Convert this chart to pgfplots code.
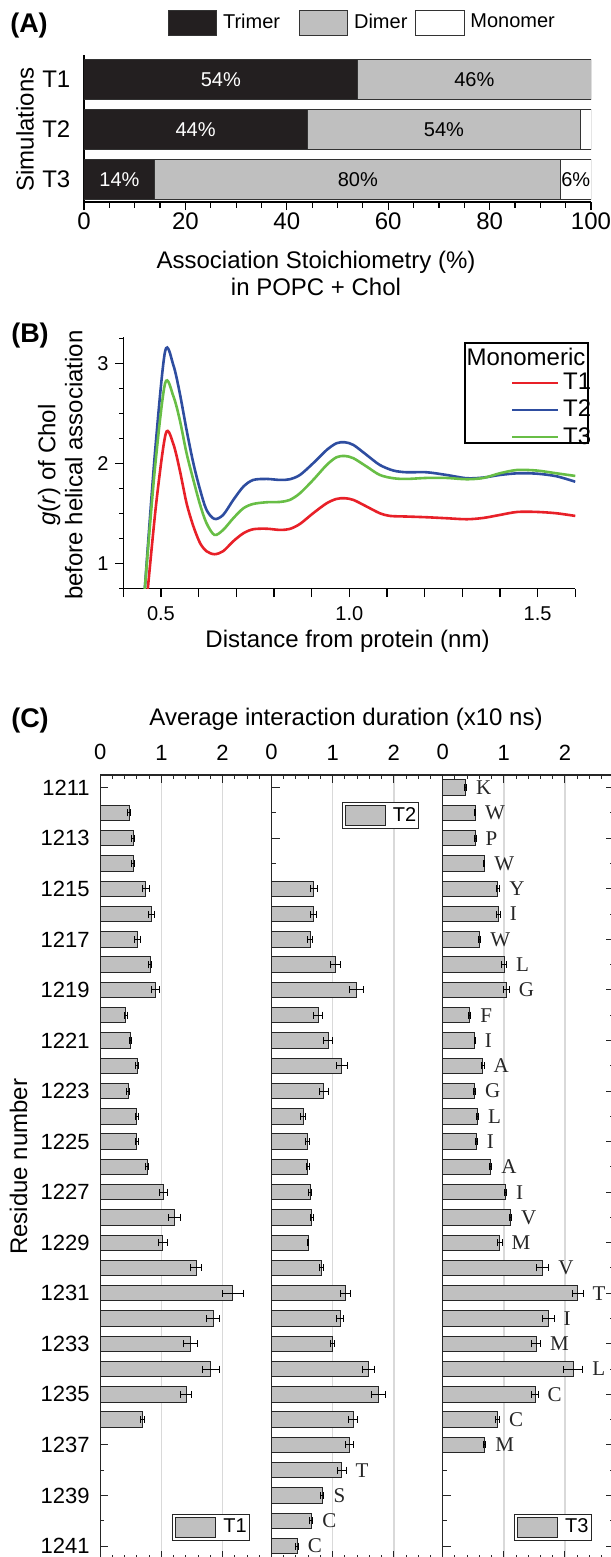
\documentclass[border=0pt]{standalone}
\usepackage{pgfplots}
\pgfplotsset{compat=1.18}
\usepackage{pgfplotstable}
\usepackage{fontspec}
\setmainfont{Liberation Sans}
\newfontfamily\serif{Liberation Serif}

\definecolor{trimer}{RGB}{35,31,32}
\definecolor{dimer}{RGB}{191,191,191}
\definecolor{barC}{RGB}{192,192,192}
\definecolor{gridC}{RGB}{217,217,217}
\definecolor{redT}{RGB}{232,32,40}
\definecolor{blueT}{RGB}{46,77,160}
\definecolor{greenT}{RGB}{104,190,70}

\newcommand\fA{\fontsize{12}{13.5}\selectfont}
\newcommand\fB{\fontsize{10}{12}\selectfont}
\newcommand\fC{\fontsize{11}{13}\selectfont}
\newcommand\fP{\fontsize{13.5}{15}\selectfont\bfseries}

% (A) association stoichiometry (%), y: 3 = T1, 2 = T2, 1 = T3
\pgfplotstableread{
y t  d  m
3 54 46 0
2 44 54 2
1 14 80 6
}\stoich

% (B) g(r) of Chol before helical association
\pgfplotstableread{
r g
0.464 0.70
0.488 1.62
0.513 2.30
0.533 2.19
0.550 1.93
0.568 1.60
0.586 1.37
0.604 1.20
0.621 1.12
0.642 1.09
0.665 1.12
0.692 1.22
0.719 1.30
0.745 1.34
0.781 1.345
0.816 1.333
0.842 1.343
0.869 1.393
0.904 1.50
0.940 1.60
0.966 1.643
0.988 1.65
1.011 1.633
1.046 1.567
1.081 1.50
1.108 1.473
1.152 1.467
1.205 1.46
1.258 1.45
1.312 1.44
1.356 1.453
1.400 1.483
1.446 1.513
1.498 1.513
1.549 1.50
1.600 1.473
}\grA
\pgfplotstableread{
r g
0.457 0.74
0.484 2.10
0.511 3.12
0.533 2.98
0.550 2.70
0.568 2.333
0.586 2.00
0.604 1.733
0.621 1.533
0.642 1.443
0.665 1.483
0.692 1.633
0.719 1.767
0.745 1.833
0.781 1.843
0.816 1.833
0.842 1.84
0.869 1.883
0.904 2.00
0.940 2.133
0.966 2.20
0.988 2.21
1.011 2.183
1.046 2.083
1.081 1.983
1.117 1.927
1.152 1.91
1.205 1.91
1.258 1.883
1.312 1.85
1.356 1.857
1.400 1.883
1.450 1.90
1.500 1.895
1.550 1.87
1.600 1.815
}\grB
\pgfplotstableread{
r g
0.457 0.74
0.484 1.95
0.511 2.80
0.533 2.67
0.550 2.433
0.568 2.10
0.586 1.833
0.604 1.583
0.621 1.40
0.642 1.283
0.665 1.333
0.692 1.45
0.719 1.55
0.745 1.593
0.781 1.61
0.816 1.613
0.842 1.633
0.869 1.70
0.904 1.833
0.940 1.983
0.966 2.06
0.988 2.073
1.011 2.05
1.046 1.967
1.081 1.883
1.117 1.85
1.152 1.843
1.205 1.853
1.258 1.853
1.312 1.84
1.356 1.853
1.400 1.90
1.446 1.933
1.498 1.927
1.549 1.90
1.600 1.873
}\grC

% (C) average interaction duration (x10 ns) and its error
\pgfplotstableread{
r v e
1212 0.47 0.02
1213 0.535 0.03
1214 0.54 0.025
1215 0.745 0.055
1216 0.834 0.05
1217 0.61 0.048
1218 0.815 0.03
1219 0.904 0.067
1220 0.42 0.02
1221 0.497 0.02
1222 0.605 0.025
1223 0.459 0.025
1224 0.60 0.025
1225 0.60 0.02
1226 0.764 0.03
1227 1.032 0.06
1228 1.21 0.10
1229 1.025 0.07
1230 1.567 0.095
1231 2.17 0.165
1232 1.847 0.11
1233 1.471 0.115
1234 1.809 0.137
1235 1.408 0.09
1236 0.694 0.03
}\durA
\pgfplotstableread{
r v e a
1215 0.694 0.057 Y
1216 0.694 0.05 I
1217 0.63 0.04 W
1218 1.051 0.08 L
1219 1.389 0.115 G
1220 0.764 0.07 F
1221 0.93 0.073 I
1222 1.146 0.09 A
1223 0.853 0.076 G
1224 0.516 0.038 L
1225 0.586 0.03 I
1226 0.592 0.025 A
1227 0.63 0.03 I
1228 0.656 0.025 V
1229 0.60 0.01 M
1230 0.822 0.035 V
1231 1.21 0.076 T
1232 1.121 0.06 I
1233 1.00 0.035 M
1234 1.586 0.095 L
1235 1.752 0.118 C
1236 1.338 0.076 C
1237 1.274 0.06 M
1238 1.146 0.073 T
1239 0.828 0.03 S
1240 0.65 0.025 C
1241 0.42 0.02 C
}\durB
\pgfplotstableread{
r v e a
1211 0.376 0.015 K
1212 0.529 0.01 W
1213 0.535 0.012 P
1214 0.68 0.01 W
1215 0.904 0.03 Y
1216 0.91 0.03 I
1217 0.605 0.02 W
1218 1.006 0.04 L
1219 1.038 0.05 G
1220 0.44 0.02 F
1221 0.522 0.01 I
1222 0.656 0.02 A
1223 0.516 0.02 G
1224 0.567 0.02 L
1225 0.554 0.01 I
1226 0.783 0.02 A
1227 1.025 0.02 I
1228 1.108 0.02 V
1229 0.93 0.04 M
1230 1.637 0.10 V
1231 2.21 0.086 T
1232 1.726 0.095 I
1233 1.529 0.07 M
1234 2.134 0.156 L
1235 1.51 0.05 C
1236 0.898 0.03 C
1237 0.688 0.015 M
}\durC

\pgfplotsset{
  panelC/.style={
    scale only axis, width=85.6pt, height=391.85pt,
    xmin=0, xmax=2.8, ymin=1210.5, ymax=1241.5, y dir=reverse,
    xtick={0,1,2}, minor xtick={0.2,0.4,0.6,0.8,1.2,1.4,1.6,1.8,2.2,2.4,2.6},
    xtick pos=both, xticklabel pos=top,
    ytick={1211,1213,...,1241}, minor ytick={1212,1214,...,1240},
    tick align=inside, major tick length=4pt, minor tick length=2pt,
    tick style={black!85, line width=0.5pt},
    axis line style={black!85, line width=0.6pt},
    xmajorgrids, grid style={gridC, line width=0.75pt},
    tick label style={font=\fC},
    xticklabel style={inner sep=0pt, yshift=7.25pt},
    yticklabel style={inner sep=0pt, xshift=-5.15pt},
    /pgf/number format/assume math mode=true,
    /pgf/number format/1000 sep={},
    clip=false,
    legend cell align=left,
    legend image code/.code={\draw[#1] (0pt,-5pt) rectangle (20pt,5pt); \path (23.5pt,0pt);},
    legend style={draw=black!85, line width=0.6pt, inner sep=1.3pt, font=\fB, nodes={inner sep=0pt}},
  },
  barsC/.style={xbar, bar width=0.61, bar shift=0pt, fill=barC, draw=black!85, line width=0.5pt},
  lettersC/.style={draw=none, mark=none, nodes near coords, point meta=explicit symbolic,
    every node near coord/.append style={anchor=west, inner sep=0pt, font=\serif\fontsize{10.5}{12}\selectfont, text=black!85}},
}

\begin{document}
\begin{tikzpicture}[x=0.5pt, y=-0.5pt]
\useasboundingbox (0,0) rectangle (610,1557);

% ---------------- (A)
\begin{axis}[
  at={(42pt,-101pt)}, anchor=south west,
  scale only axis, width=253.5pt, height=73.5pt,
  xbar stacked, bar width=0.793,
  xmin=0, xmax=100, ymin=0.544, ymax=3.496,
  axis x line*=bottom, axis y line*=left,
  axis line style={black, line width=0.6pt},
  xtick={0,20,...,100}, minor x tick num=3,
  ytick={1,2,3}, yticklabels={T3,T2,T1},
  tick align=outside, major tick length=4pt, minor tick length=2.75pt,
  xtick style={black, line width=0.6pt}, ytick style={draw=none},
  tick label style={font=\fA},
  xticklabel style={inner sep=0pt, yshift=-1.25pt},
  yticklabel style={inner sep=0pt, xshift=-2.65pt},
  /pgf/number format/assume math mode=true,
  xlabel={Association Stoichiometry (\%)\\in POPC + Chol},
  ylabel={Simulations},
  every axis x label/.style={at={(axis description cs:0.4576,-0.486)}, anchor=center, align=center, font=\fA},
  every axis y label/.style={at={(axis description cs:-0.1164,0.4932)}, anchor=center, rotate=90, font=\fA},
  legend columns=3, legend cell align=left,
  legend style={at={(axis description cs:0.1643,1.2211)}, anchor=west, draw=none, fill=none,
    inner sep=0pt, font=\fB, nodes={inner sep=0pt}, /tikz/column sep=0pt},
  legend image code/.code={\draw[#1] (0pt,-6.25pt) rectangle (24.35pt,6.25pt);},
]
\addplot[fill=trimer, draw=black!80, line width=0.5pt] table[x=t, y=y] {\stoich};
\addlegendentry{\hspace{2.85pt}\makebox[37.8pt][l]{Trimer}}
\addplot[fill=dimer, draw=black!80, line width=0.5pt] table[x=d, y=y] {\stoich};
\addlegendentry{\hspace{2.85pt}\makebox[30.45pt][l]{Dimer}}
\addplot[fill=white, draw=black!80, line width=0.5pt] table[x=m, y=y] {\stoich};
\addlegendentry{\hspace{2.85pt}Monomer}
\end{axis}

% percentages inside the bars
\begin{axis}[
  at={(42pt,-101pt)}, anchor=south west,
  scale only axis, width=253.5pt, height=73.5pt,
  xmin=0, xmax=100, ymin=0.544, ymax=3.496, hide axis, clip=false,
  point meta=explicit symbolic,
  nodes near coords={\pgfplotspointmeta\%},
  every node near coord/.append style={anchor=center, font=\fB, inner sep=0pt},
]
\addplot[color=white, draw=none, mark=none, every node near coord/.append style={text=white}]
  table[x expr=\thisrow{t}/2, y=y, meta=t] {\stoich};
\addplot[color=black, draw=none, mark=none, every node near coord/.append style={text=black}]
  table[x expr=\thisrow{t}+\thisrow{d}/2, y=y, meta=d] {\stoich};
\addplot[color=black, draw=none, mark=none, restrict y to domain=0.5:1.5, every node near coord/.append style={text=black}]
  table[x expr=\thisrow{t}+\thisrow{d}+\thisrow{m}/2, y=y, meta=m] {\stoich};
\end{axis}

% ---------------- (B)
\begin{axis}[
  at={(61.65pt,-294.35pt)}, anchor=south west,
  scale only axis, width=226pt, height=125.7pt,
  xmin=0.4, xmax=1.6, ymin=0.745, ymax=3.26,
  axis x line*=bottom, axis y line*=left,
  axis line style={black, line width=0.65pt},
  xtick={0.4,0.5,0.6,0.7,0.8,0.9,1.0,1.1,1.2,1.3,1.4,1.5,1.6},
  xticklabels={,0.5,,,,,1.0,,,,,1.5,},
  ytick={1,2,3}, minor ytick={0.75,1.25,1.5,1.75,2.25,2.5,2.75,3.25},
  tick align=outside, major tick length=4.15pt, minor tick length=2.15pt,
  tick style={black, line width=0.65pt},
  tick label style={font=\fB},
  xticklabel style={inner sep=0pt, yshift=-4.5pt},
  yticklabel style={inner sep=0pt, xshift=-3pt},
  /pgf/number format/assume math mode=true,
  xlabel={Distance from protein (nm)},
  ylabel={\textit{g}(\textit{r}) of Chol\\before helical association},
  every axis x label/.style={at={(axis description cs:0.496,-0.208)}, anchor=center, font=\fA},
  every axis y label/.style={at={(axis description cs:-0.1392,0.492)}, anchor=center, rotate=90, align=center, font=\fA},
  legend cell align=left,
  legend style={at={(axis description cs:0.8564,0.858)}, anchor=north west, draw=none, fill=none,
    inner sep=0pt, row sep=3.65pt, font=\fA, nodes={inner sep=0pt}},
  legend image code/.code={\draw[#1] (0pt,0pt) -- (23pt,0pt); \path (24.85pt,0pt);},
]
\addplot[redT, line width=1.3pt, smooth] table[x=r, y=g] {\grA};
\addlegendentry{T1}
\addplot[blueT, line width=1.3pt, smooth] table[x=r, y=g] {\grB};
\addlegendentry{T2}
\addplot[greenT, line width=1.3pt, smooth] table[x=r, y=g] {\grC};
\addlegendentry{T3}
\end{axis}
\draw[black, line width=0.6pt] (465,343) rectangle (588,443);
\node[font=\fA] at (526,357) {Monomeric};

% ---------------- (C)
\begin{axis}[panelC,
  at={(50.15pt,-779.35pt)}, anchor=south west,
  ytick pos=left,
  ylabel={Residue number},
  every axis y label/.style={at={(axis description cs:-0.4778,0.5)}, anchor=center, rotate=90, font=\fA},
  legend style={at={(axis description cs:0.8744,0.0226)}, anchor=south east},
]
\addplot[barsC, error bars/.cd, x dir=both, x explicit,
  error bar style={black, line width=0.5pt}, error mark options={rotate=90, black, mark size=1.75pt, line width=0.5pt}]
  table[x=v, y=r, x error=e] {\durA};
\addlegendentry{T1}
\end{axis}

\begin{axis}[panelC,
  at={(135.75pt,-779.35pt)}, anchor=south west,
  ytick pos=left, yticklabels={},
  xlabel={Average interaction duration (x10 ns)},
  every axis x label/.style={at={(axis description cs:0.4352,1.0715)}, anchor=center, font=\fA},
  legend style={at={(axis description cs:0.8639,0.9655)}, anchor=north east},
]
\addplot[barsC, error bars/.cd, x dir=both, x explicit,
  error bar style={black, line width=0.5pt}, error mark options={rotate=90, black, mark size=1.75pt, line width=0.5pt}]
  table[x=v, y=r, x error=e] {\durB};
\addlegendentry{T2}
\addplot[lettersC, forget plot, restrict y to domain=1237.5:1241.5]
  table[x expr=\thisrow{v}+\thisrow{e}+0.15, y=r, meta=a] {\durB};
\end{axis}

\begin{axis}[panelC,
  at={(221.35pt,-779.35pt)}, anchor=south west,
  ytick pos=both, yticklabels={},
  legend style={at={(axis description cs:0.8703,0.0226)}, anchor=south east},
]
\addplot[barsC, error bars/.cd, x dir=both, x explicit,
  error bar style={black, line width=0.5pt}, error mark options={rotate=90, black, mark size=1.75pt, line width=0.5pt}]
  table[x=v, y=r, x error=e] {\durC};
\addlegendentry{T3}
\addplot[lettersC, forget plot]
  table[x expr=\thisrow{v}+\thisrow{e}+0.15, y=r, meta=a] {\durC};
\end{axis}

\node[font=\fP] at (29,26) {(A)};
\node[font=\fP] at (30,336) {(B)};
\node[font=\fP] at (30,721) {(C)};
\end{tikzpicture}
\end{document}
